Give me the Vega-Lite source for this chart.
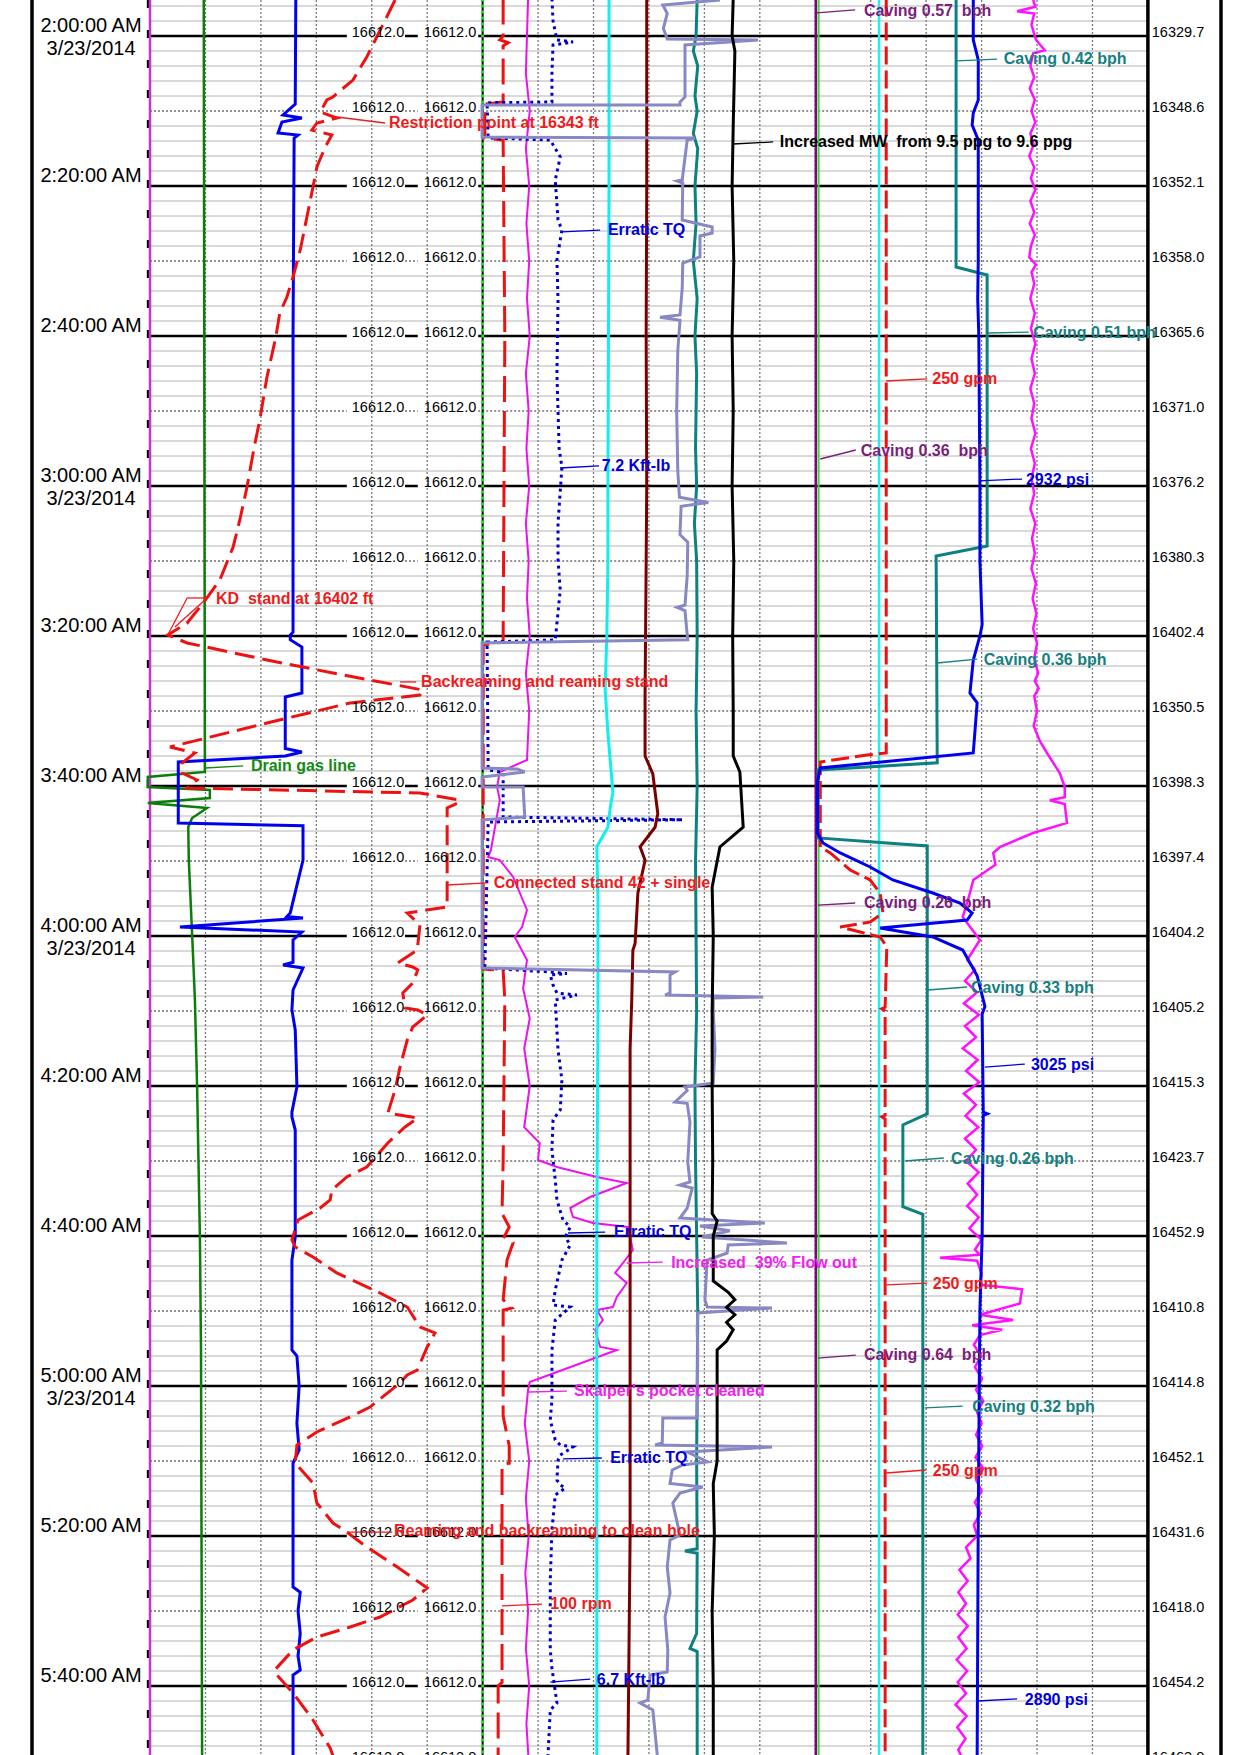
{
"$schema":"https://vega.github.io/schema/vega-lite/v6.json",
"width":1189,"height":1755,
"autosize":{"type":"none"},
"padding":{"left":32,"top":0,"right":19,"bottom":0},
"background":"white",
"config":{"view":{"stroke":null}},
"datasets":{
"minor":[{"t":-4},{"t":-2},{"t":2},{"t":4},{"t":6},{"t":8},{"t":12},{"t":14},{"t":16},{"t":18},{"t":22},{"t":24},{"t":26},{"t":28},{"t":32},{"t":34},{"t":36},{"t":38},{"t":42},{"t":44},{"t":46},{"t":48},{"t":52},{"t":54},{"t":56},{"t":58},{"t":62},{"t":64},{"t":66},{"t":68},{"t":72},{"t":74},{"t":76},{"t":78},{"t":82},{"t":84},{"t":86},{"t":88},{"t":92},{"t":94},{"t":96},{"t":98},{"t":102},{"t":104},{"t":106},{"t":108},{"t":112},{"t":114},{"t":116},{"t":118},{"t":122},{"t":124},{"t":126},{"t":128},{"t":132},{"t":134},{"t":136},{"t":138},{"t":142},{"t":144},{"t":146},{"t":148},{"t":152},{"t":154},{"t":156},{"t":158},{"t":162},{"t":164},{"t":166},{"t":168},{"t":172},{"t":174},{"t":176},{"t":178},{"t":182},{"t":184},{"t":186},{"t":188},{"t":192},{"t":194},{"t":196},{"t":198},{"t":202},{"t":204},{"t":206},{"t":208},{"t":212},{"t":214},{"t":216},{"t":218},{"t":222},{"t":224},{"t":226},{"t":228}],
"mid":[{"t":10},{"t":30},{"t":50},{"t":70},{"t":90},{"t":110},{"t":130},{"t":150},{"t":170},{"t":190},{"t":210},{"t":230}],
"times":[{"t":0,"lab":"2:00:00 AM\n3/23/2014"},{"t":20,"lab":"2:20:00 AM"},{"t":40,"lab":"2:40:00 AM"},{"t":60,"lab":"3:00:00 AM\n3/23/2014"},{"t":80,"lab":"3:20:00 AM"},{"t":100,"lab":"3:40:00 AM"},{"t":120,"lab":"4:00:00 AM\n3/23/2014"},{"t":140,"lab":"4:20:00 AM"},{"t":160,"lab":"4:40:00 AM"},{"t":180,"lab":"5:00:00 AM\n3/23/2014"},{"t":200,"lab":"5:20:00 AM"},{"t":220,"lab":"5:40:00 AM"}],
"depths":[{"t":0,"d":"16329.7"},{"t":10,"d":"16348.6"},{"t":20,"d":"16352.1"},{"t":30,"d":"16358.0"},{"t":40,"d":"16365.6"},{"t":50,"d":"16371.0"},{"t":60,"d":"16376.2"},{"t":70,"d":"16380.3"},{"t":80,"d":"16402.4"},{"t":90,"d":"16350.5"},{"t":100,"d":"16398.3"},{"t":110,"d":"16397.4"},{"t":120,"d":"16404.2"},{"t":130,"d":"16405.2"},{"t":140,"d":"16415.3"},{"t":150,"d":"16423.7"},{"t":160,"d":"16452.9"},{"t":170,"d":"16410.8"},{"t":180,"d":"16414.8"},{"t":190,"d":"16452.1"},{"t":200,"d":"16431.6"},{"t":210,"d":"16418.0"},{"t":220,"d":"16454.2"},{"t":230,"d":"16463.0"}],
"vgrid":[{"u":1},{"u":2},{"u":3},{"u":4},{"u":5},{"u":6},{"u":7},{"u":8},{"u":9},{"u":10},{"u":11},{"u":12},{"u":13},{"u":14},{"u":15},{"u":16},{"u":17}],
"magL":[{"t":-5,"u":0},{"t":230,"u":0}],
"col6":[{"t":-5,"u":6},{"t":230,"u":6}],
"purp12":[{"t":-5,"u":12.01},{"t":230,"u":12.01}],
"grn12":[{"t":-5,"u":12.06},{"t":230,"u":12.06}],
"cyanR":[{"t":-5,"u":13.15},{"t":230,"u":13.15}],
"greenL":[{"t":-5,"u":0.97},{"t":98.13,"u":0.99},{"t":98.8,"u":-0.04},{"t":100.13,"u":-0.04},{"t":100.53,"u":1.08},{"t":101.6,"u":1.08},{"t":102.27,"u":-0.04},{"t":102.93,"u":1.03},{"t":104.27,"u":0.76},{"t":105.47,"u":0.69},{"t":109.87,"u":0.70},{"t":123.2,"u":0.78},{"t":128.53,"u":0.81},{"t":140.13,"u":0.85},{"t":160.13,"u":0.90},{"t":175.2,"u":0.92},{"t":230,"u":0.94}],
"blueL":[{"t":-5,"u":2.63},{"t":9.07,"u":2.62},{"t":10.53,"u":2.40},{"t":10.93,"u":2.74},{"t":11.47,"u":2.38},{"t":12.93,"u":2.31},{"t":13.2,"u":2.67},{"t":13.6,"u":2.60},{"t":40,"u":2.58},{"t":79.5,"u":2.58},{"t":79.87,"u":2.53},{"t":80.5,"u":2.53},{"t":81.47,"u":2.74},{"t":87.6,"u":2.74},{"t":88.13,"u":2.44},{"t":95.0,"u":2.44},{"t":95.47,"u":2.74},{"t":96.0,"u":2.44},{"t":96.8,"u":0.51},{"t":104.93,"u":0.51},{"t":105.3,"u":2.76},{"t":109.87,"u":2.76},{"t":116.93,"u":2.53},{"t":117.4,"u":2.47},{"t":117.6,"u":2.76},{"t":118.8,"u":0.54},{"t":119.47,"u":2.74},{"t":120.53,"u":2.58},{"t":123.5,"u":2.58},{"t":123.87,"u":2.40},{"t":124.27,"u":2.76},{"t":127.2,"u":2.58},{"t":129.87,"u":2.56},{"t":132.53,"u":2.62},{"t":140.13,"u":2.65},{"t":143.5,"u":2.56},{"t":144.13,"u":2.56},{"t":145.87,"u":2.62},{"t":160.13,"u":2.62},{"t":163.2,"u":2.56},{"t":175.2,"u":2.56},{"t":176,"u":2.65},{"t":180,"u":2.69},{"t":185,"u":2.65},{"t":188.53,"u":2.69},{"t":190.27,"u":2.58},{"t":206.8,"u":2.58},{"t":207.5,"u":2.71},{"t":210,"u":2.67},{"t":213,"u":2.71},{"t":216,"u":2.67},{"t":217.87,"u":2.71},{"t":218.53,"u":2.58},{"t":230,"u":2.58}],
"redL":[{"t":-4.8,"u":4.42},{"t":-2.53,"u":4.27},{"t":0.13,"u":4.09},{"t":2.8,"u":3.91},{"t":5.87,"u":3.66},{"t":8.13,"u":3.30},{"t":8.53,"u":3.19},{"t":10.13,"u":3.07},{"t":10.93,"u":3.37},{"t":11.6,"u":3.01},{"t":12.53,"u":2.92},{"t":13.2,"u":3.28},{"t":14.8,"u":3.16},{"t":17.47,"u":3.01},{"t":20.13,"u":2.94},{"t":24.13,"u":2.83},{"t":28.53,"u":2.71},{"t":32.13,"u":2.58},{"t":34.8,"u":2.47},{"t":36.93,"u":2.34},{"t":40.13,"u":2.27},{"t":45.47,"u":2.11},{"t":51.2,"u":1.98},{"t":54.8,"u":1.88},{"t":60.13,"u":1.75},{"t":64.53,"u":1.62},{"t":68.13,"u":1.50},{"t":72.53,"u":1.26},{"t":75.6,"u":0.96},{"t":78.27,"u":0.67},{"t":79.87,"u":0.32},{"t":80.93,"u":0.67},{"t":83.2,"u":2.11},{"t":84.93,"u":3.30},{"t":87.2,"u":4.92},{"t":87.87,"u":4.87},{"t":88.93,"u":3.61},{"t":91.6,"u":2.11},{"t":94.8,"u":0.36},{"t":95.6,"u":0.81},{"t":96.93,"u":0.58},{"t":98.27,"u":0.58},{"t":99.2,"u":0.85},{"t":100.27,"u":0.67},{"t":100.93,"u":4.87},{"t":101.87,"u":5.57},{"t":102.13,"u":5.59},{"t":102.93,"u":5.36},{"t":116.13,"u":5.36},{"t":116.93,"u":4.64},{"t":118.53,"u":4.87},{"t":121.87,"u":4.82},{"t":123.6,"u":4.47},{"t":124.13,"u":4.74},{"t":124.53,"u":4.83},{"t":126.27,"u":4.74},{"t":127.6,"u":4.56},{"t":129.6,"u":4.60},{"t":129.87,"u":4.83},{"t":130.53,"u":5.00},{"t":132.13,"u":4.74},{"t":133.87,"u":4.64},{"t":137.47,"u":4.51},{"t":140.53,"u":4.42},{"t":143.6,"u":4.29},{"t":144.27,"u":4.83},{"t":145.47,"u":4.60},{"t":147.6,"u":4.29},{"t":150.8,"u":3.91},{"t":152.13,"u":3.55},{"t":153.87,"u":3.28},{"t":155.2,"u":3.25},{"t":156.27,"u":3.07},{"t":157.87,"u":2.67},{"t":160.53,"u":2.56},{"t":161.47,"u":2.62},{"t":162.8,"u":2.94},{"t":164.93,"u":3.37},{"t":167.6,"u":4.15},{"t":169.47,"u":4.64},{"t":172.13,"u":4.87},{"t":172.93,"u":5.14},{"t":174.8,"u":5.00},{"t":177.87,"u":4.82},{"t":178.53,"u":4.64},{"t":179.6,"u":4.51},{"t":182.8,"u":3.97},{"t":184.13,"u":3.61},{"t":186.13,"u":3.01},{"t":187.87,"u":2.65},{"t":190.27,"u":2.62},{"t":192.93,"u":2.94},{"t":195.6,"u":3.01},{"t":198.27,"u":3.30},{"t":199.47,"u":3.55},{"t":201.47,"u":3.91},{"t":204.13,"u":4.46},{"t":206.93,"u":5.00},{"t":208.53,"u":4.74},{"t":210.8,"u":4.15},{"t":212.13,"u":3.61},{"t":213.47,"u":3.01},{"t":215.2,"u":2.58},{"t":217.87,"u":2.25},{"t":218.53,"u":2.29},{"t":220.93,"u":2.58},{"t":224.53,"u":2.94},{"t":228.27,"u":3.25},{"t":230.13,"u":3.34}],
"red6":[{"t":-5,"u":6.37},{"t":0,"u":6.37},{"t":0.5,"u":6.31},{"t":0.9,"u":6.46},{"t":1.3,"u":6.37},{"t":8.8,"u":6.37},{"t":9.07,"u":6.04},{"t":13.6,"u":6.04},{"t":13.9,"u":6.37},{"t":40,"u":6.40},{"t":80.8,"u":6.37},{"t":81.2,"u":6.01},{"t":124.4,"u":6.01},{"t":124.6,"u":6.37},{"t":128.5,"u":6.40},{"t":150,"u":6.37},{"t":157,"u":6.35},{"t":158.8,"u":6.48},{"t":160.1,"u":6.39},{"t":160.9,"u":6.55},{"t":163.2,"u":6.44},{"t":168.5,"u":6.37},{"t":169.6,"u":6.53},{"t":169.9,"u":6.37},{"t":184,"u":6.37},{"t":188,"u":6.48},{"t":190.3,"u":6.48},{"t":190.5,"u":6.35},{"t":219.5,"u":6.35},{"t":220,"u":6.28},{"t":230,"u":6.28}],
"mag7":[{"t":-5,"u":6.82},{"t":5,"u":6.78},{"t":10,"u":6.85},{"t":15,"u":6.78},{"t":20,"u":6.84},{"t":25,"u":6.79},{"t":30,"u":6.84},{"t":35,"u":6.80},{"t":40,"u":6.85},{"t":45,"u":6.78},{"t":50,"u":6.83},{"t":55,"u":6.79},{"t":60,"u":6.84},{"t":65,"u":6.78},{"t":70,"u":6.83},{"t":75,"u":6.80},{"t":80,"u":6.85},{"t":85,"u":6.78},{"t":90,"u":6.84},{"t":96.53,"u":6.80},{"t":98.13,"u":6.31},{"t":100.13,"u":6.26},{"t":101.87,"u":6.31},{"t":108.53,"u":6.15},{"t":109.47,"u":6.10},{"t":109.87,"u":6.31},{"t":112.13,"u":6.55},{"t":116.53,"u":6.80},{"t":118.8,"u":6.71},{"t":120.13,"u":6.58},{"t":123.2,"u":6.80},{"t":127,"u":6.73},{"t":131,"u":6.85},{"t":135,"u":6.75},{"t":140,"u":6.85},{"t":145.5,"u":6.75},{"t":147.6,"u":7.03},{"t":149.87,"u":7.00},{"t":150.8,"u":7.34},{"t":152.13,"u":8.06},{"t":152.93,"u":8.60},{"t":154.8,"u":7.94},{"t":156.27,"u":7.58},{"t":157.47,"u":7.63},{"t":158.27,"u":7.99},{"t":158.8,"u":8.62},{"t":161.87,"u":8.71},{"t":163.6,"u":8.53},{"t":164.93,"u":8.39},{"t":166.27,"u":8.60},{"t":168.13,"u":8.42},{"t":169.47,"u":8.35},{"t":169.87,"u":8.06},{"t":171.2,"u":8.17},{"t":172.53,"u":8.03},{"t":174.8,"u":8.12},{"t":175.2,"u":8.42},{"t":179.47,"u":6.85},{"t":180.53,"u":6.82},{"t":185,"u":6.76},{"t":190,"u":6.84},{"t":195,"u":6.78},{"t":200,"u":6.83},{"t":205,"u":6.77},{"t":210,"u":6.82},{"t":215,"u":6.78},{"t":220,"u":6.84},{"t":225,"u":6.79},{"t":230,"u":6.83}],
"dot8":[{"t":-5,"u":7.25},{"t":-2,"u":7.27},{"t":0.53,"u":7.34},{"t":0.8,"u":7.63},{"t":1.2,"u":7.27},{"t":5,"u":7.25},{"t":8.8,"u":7.25},{"t":8.9,"u":6.08},{"t":13.6,"u":6.10},{"t":13.87,"u":7.22},{"t":16.13,"u":7.40},{"t":19.2,"u":7.31},{"t":24.53,"u":7.36},{"t":25.87,"u":7.43},{"t":29.87,"u":7.34},{"t":35.2,"u":7.36},{"t":45,"u":7.34},{"t":55,"u":7.38},{"t":57.5,"u":7.43},{"t":65,"u":7.36},{"t":69.87,"u":7.36},{"t":73.87,"u":7.40},{"t":80.53,"u":7.31},{"t":80.8,"u":6.08},{"t":97.87,"u":6.10},{"t":98.2,"u":6.37},{"t":104.13,"u":6.37},{"t":104.5,"u":9.61},{"t":104.8,"u":6.10},{"t":124.27,"u":6.04},{"t":124.8,"u":7.22},{"t":125.0,"u":7.52},{"t":125.2,"u":7.22},{"t":126.53,"u":7.27},{"t":127.6,"u":7.34},{"t":127.87,"u":7.70},{"t":128.53,"u":7.31},{"t":135.2,"u":7.36},{"t":139.2,"u":7.43},{"t":143.2,"u":7.40},{"t":144.53,"u":7.27},{"t":148.53,"u":7.25},{"t":152.53,"u":7.31},{"t":155.2,"u":7.34},{"t":157.87,"u":7.45},{"t":158.8,"u":7.58},{"t":160.13,"u":7.49},{"t":161.2,"u":7.58},{"t":163.2,"u":7.43},{"t":167.2,"u":7.31},{"t":169.2,"u":7.27},{"t":169.47,"u":7.58},{"t":171.2,"u":7.31},{"t":175.2,"u":7.25},{"t":181.87,"u":7.25},{"t":184.53,"u":7.22},{"t":187.2,"u":7.31},{"t":187.87,"u":7.40},{"t":188.13,"u":7.63},{"t":189.2,"u":7.40},{"t":189.87,"u":7.36},{"t":192.53,"u":7.34},{"t":193.2,"u":7.40},{"t":193.6,"u":7.49},{"t":194.53,"u":7.31},{"t":199.2,"u":7.25},{"t":205.87,"u":7.22},{"t":215.2,"u":7.22},{"t":217.6,"u":7.25},{"t":222.27,"u":7.34},{"t":223.2,"u":7.22},{"t":229.2,"u":7.18},{"t":230,"u":7.18}],
"cyan9":[{"t":-5,"u":8.28},{"t":20,"u":8.28},{"t":40,"u":8.27},{"t":60,"u":8.26},{"t":70,"u":8.26},{"t":80,"u":8.24},{"t":87,"u":8.21},{"t":93,"u":8.26},{"t":100.8,"u":8.35},{"t":103,"u":8.30},{"t":105.5,"u":8.26},{"t":108.1,"u":8.06},{"t":115,"u":8.08},{"t":130,"u":8.08},{"t":160,"u":8.06},{"t":230,"u":8.06}],
"maroon":[{"t":-5,"u":8.96},{"t":20,"u":8.96},{"t":40,"u":8.95},{"t":60,"u":8.96},{"t":70,"u":8.95},{"t":87.8,"u":8.93},{"t":96,"u":8.93},{"t":98.4,"u":9.07},{"t":103.7,"u":9.16},{"t":105.5,"u":9.11},{"t":108.1,"u":8.84},{"t":109.9,"u":8.93},{"t":114.3,"u":8.80},{"t":121.0,"u":8.75},{"t":121.9,"u":8.71},{"t":128.5,"u":8.69},{"t":135,"u":8.66},{"t":200,"u":8.66},{"t":230,"u":8.62}],
"lav":[{"t":-4.8,"u":10.28},{"t":-4.13,"u":9.25},{"t":-3,"u":9.33},{"t":-1,"u":9.26},{"t":0.4,"u":9.33},{"t":0.53,"u":10.97},{"t":1.2,"u":9.65},{"t":8.13,"u":9.65},{"t":8.8,"u":9.56},{"t":9.2,"u":9.56},{"t":9.2,"u":5.99},{"t":13.47,"u":5.99},{"t":13.6,"u":9.83},{"t":13.87,"u":9.69},{"t":19.2,"u":9.60},{"t":19.33,"u":9.51},{"t":19.6,"u":9.61},{"t":24.53,"u":9.60},{"t":25.47,"u":10.14},{"t":26.27,"u":10.14},{"t":26.67,"u":9.92},{"t":29.47,"u":9.92},{"t":30.27,"u":9.61},{"t":33.6,"u":9.60},{"t":37.2,"u":9.56},{"t":37.5,"u":9.20},{"t":37.9,"u":9.56},{"t":42,"u":9.52},{"t":50,"u":9.50},{"t":58,"u":9.52},{"t":61.5,"u":9.55},{"t":62.2,"u":10.07},{"t":62.7,"u":9.58},{"t":66.5,"u":9.56},{"t":67.5,"u":9.70},{"t":72,"u":9.69},{"t":75.87,"u":9.65},{"t":76.2,"u":9.51},{"t":76.6,"u":9.65},{"t":79.87,"u":9.69},{"t":80.5,"u":9.70},{"t":80.93,"u":5.99},{"t":97.6,"u":5.99},{"t":97.73,"u":6.62},{"t":98.13,"u":6.76},{"t":98.8,"u":5.99},{"t":100.13,"u":5.99},{"t":100.13,"u":6.73},{"t":104.13,"u":6.76},{"t":104.53,"u":5.99},{"t":124.27,"u":5.99},{"t":124.8,"u":9.47},{"t":125.2,"u":9.38},{"t":127.6,"u":9.38},{"t":127.87,"u":9.29},{"t":128.13,"u":11.06},{"t":128.27,"u":10.16},{"t":130,"u":10.16},{"t":135,"u":10.19},{"t":139.6,"u":10.16},{"t":140.13,"u":9.65},{"t":140.6,"u":9.69},{"t":142.13,"u":9.47},{"t":142.3,"u":9.69},{"t":144.8,"u":9.74},{"t":150.13,"u":9.70},{"t":152.8,"u":9.74},{"t":153.2,"u":9.56},{"t":153.6,"u":9.78},{"t":156.27,"u":9.69},{"t":157.6,"u":9.56},{"t":158.27,"u":11.09},{"t":158.67,"u":9.92},{"t":159.3,"u":10.46},{"t":160.13,"u":9.96},{"t":160.93,"u":11.49},{"t":161.2,"u":10.43},{"t":162.27,"u":10.41},{"t":163.2,"u":10.05},{"t":168.53,"u":10.01},{"t":169.47,"u":10.05},{"t":169.6,"u":11.22},{"t":170.27,"u":9.88},{"t":172.53,"u":9.87},{"t":175.2,"u":9.88},{"t":184.27,"u":9.87},{"t":184.27,"u":9.25},{"t":187.6,"u":9.24},{"t":187.87,"u":9.11},{"t":188.13,"u":11.22},{"t":188.8,"u":9.69},{"t":190.13,"u":10.06},{"t":190.53,"u":9.61},{"t":191.2,"u":9.42},{"t":193.0,"u":9.38},{"t":193.47,"u":9.97},{"t":194.27,"u":9.56},{"t":195.6,"u":9.43},{"t":199.87,"u":9.56},{"t":200.53,"u":9.38},{"t":204.13,"u":9.33},{"t":207.6,"u":9.38},{"t":210.8,"u":9.29},{"t":215.2,"u":9.34},{"t":218.13,"u":9.33},{"t":218.53,"u":9.02},{"t":221.87,"u":8.98},{"t":222.27,"u":8.84},{"t":223.2,"u":9.07},{"t":229.2,"u":9.15},{"t":230,"u":9.15}],
"teal":[{"t":-5,"u":9.87},{"t":0,"u":9.85},{"t":2,"u":9.80},{"t":4,"u":9.88},{"t":8,"u":9.83},{"t":10,"u":9.87},{"t":13,"u":9.80},{"t":15,"u":9.88},{"t":20,"u":9.83},{"t":25,"u":9.85},{"t":30,"u":9.80},{"t":35,"u":9.87},{"t":40,"u":9.83},{"t":45,"u":9.86},{"t":55,"u":9.84},{"t":60,"u":9.86},{"t":65,"u":9.82},{"t":70,"u":9.86},{"t":80,"u":9.87},{"t":90,"u":9.85},{"t":100,"u":9.87},{"t":110,"u":9.84},{"t":120,"u":9.85},{"t":130,"u":9.86},{"t":140,"u":9.83},{"t":150,"u":9.84},{"t":160,"u":9.86},{"t":170,"u":9.88},{"t":180,"u":9.87},{"t":190,"u":9.86},{"t":201.7,"u":9.87},{"t":202.0,"u":9.65},{"t":202.3,"u":9.87},{"t":213,"u":9.86},{"t":215,"u":9.74},{"t":215.4,"u":9.87},{"t":230,"u":9.87}],
"black":[{"t":-5,"u":10.52},{"t":0,"u":10.50},{"t":2,"u":10.55},{"t":12,"u":10.52},{"t":20,"u":10.50},{"t":30,"u":10.53},{"t":40,"u":10.50},{"t":50,"u":10.52},{"t":60,"u":10.50},{"t":70,"u":10.53},{"t":80,"u":10.51},{"t":90,"u":10.52},{"t":96,"u":10.52},{"t":98.13,"u":10.64},{"t":105.47,"u":10.70},{"t":108.13,"u":10.28},{"t":113.47,"u":10.14},{"t":120,"u":10.16},{"t":130,"u":10.14},{"t":140,"u":10.14},{"t":150,"u":10.15},{"t":157,"u":10.14},{"t":158,"u":10.23},{"t":160,"u":10.16},{"t":166,"u":10.16},{"t":167.5,"u":10.43},{"t":168.5,"u":10.55},{"t":169.5,"u":10.40},{"t":170.5,"u":10.55},{"t":171.5,"u":10.40},{"t":172.5,"u":10.52},{"t":174,"u":10.40},{"t":175.2,"u":10.23},{"t":190,"u":10.23},{"t":193,"u":10.16},{"t":200,"u":10.18},{"t":210,"u":10.14},{"t":220,"u":10.16},{"t":230,"u":10.16}],
"redR":[{"t":-5,"u":13.28},{"t":95.6,"u":13.28},{"t":95.87,"u":12.93},{"t":96.8,"u":12.09},{"t":108.13,"u":12.09},{"t":108.93,"u":12.27},{"t":111.2,"u":12.63},{"t":112.53,"u":12.99},{"t":114.27,"u":13.17},{"t":116.93,"u":13.22},{"t":118.13,"u":12.99},{"t":118.8,"u":12.45},{"t":119.47,"u":12.81},{"t":120.13,"u":13.17},{"t":121.47,"u":13.29},{"t":129.5,"u":13.26},{"t":129.7,"u":13.20},{"t":130,"u":13.26},{"t":143.9,"u":13.26},{"t":144.1,"u":13.20},{"t":144.4,"u":13.26},{"t":230,"u":13.26}],
"tealR":[{"t":-5,"u":14.54},{"t":30.8,"u":14.54},{"t":31.87,"u":15.10},{"t":68,"u":15.10},{"t":69.33,"u":14.18},{"t":96.9,"u":14.20},{"t":97.87,"u":12.05},{"t":106.93,"u":12.05},{"t":108,"u":14.02},{"t":143.7,"u":14.02},{"t":145.2,"u":13.58},{"t":156.1,"u":13.58},{"t":157.1,"u":13.94},{"t":230,"u":13.94}],
"blueR":[{"t":-5,"u":14.85},{"t":0.53,"u":14.85},{"t":3.2,"u":14.94},{"t":8.53,"u":14.94},{"t":10.27,"u":14.85},{"t":11.87,"u":14.83},{"t":13.87,"u":14.94},{"t":20,"u":14.94},{"t":30,"u":14.94},{"t":35,"u":14.93},{"t":40,"u":14.95},{"t":50,"u":14.96},{"t":60,"u":14.97},{"t":70,"u":14.97},{"t":78.5,"u":15.01},{"t":80,"u":14.97},{"t":83.2,"u":14.85},{"t":87.6,"u":14.79},{"t":88.93,"u":14.92},{"t":95.6,"u":14.85},{"t":97.6,"u":12.09},{"t":99.5,"u":12.04},{"t":106.27,"u":12.04},{"t":107.6,"u":12.14},{"t":108.93,"u":12.45},{"t":110.8,"u":12.99},{"t":112.53,"u":13.40},{"t":114.27,"u":14.12},{"t":115.6,"u":14.61},{"t":116.93,"u":14.83},{"t":117.87,"u":14.74},{"t":118.93,"u":13.17},{"t":120.13,"u":14.12},{"t":121.87,"u":14.66},{"t":125.3,"u":14.92},{"t":129.4,"u":15.06},{"t":130.4,"u":15.01},{"t":143.5,"u":15.03},{"t":143.7,"u":15.10},{"t":143.9,"u":15.03},{"t":160,"u":15.01},{"t":169.9,"u":14.97},{"t":197.2,"u":14.94},{"t":230,"u":14.92}],
"magR":[{"t":-4.8,"u":15.93},{"t":-3.9,"u":15.97},{"t":-3.3,"u":15.64},{"t":-3.0,"u":15.95},{"t":-1.5,"u":15.90},{"t":0.5,"u":15.98},{"t":1.9,"u":16.14},{"t":2.3,"u":15.93},{"t":4,"u":15.88},{"t":5.5,"u":15.95},{"t":7,"u":15.87},{"t":8.5,"u":15.96},{"t":10,"u":15.90},{"t":11.5,"u":15.97},{"t":13,"u":15.88},{"t":14.5,"u":15.94},{"t":16,"u":15.86},{"t":17.5,"u":15.95},{"t":19,"u":15.89},{"t":20.5,"u":15.97},{"t":22,"u":15.88},{"t":23.5,"u":15.95},{"t":25,"u":15.87},{"t":26.5,"u":15.96},{"t":28,"u":15.89},{"t":29.5,"u":15.86},{"t":30.5,"u":15.98},{"t":31.5,"u":15.90},{"t":33,"u":15.95},{"t":35,"u":15.88},{"t":37,"u":15.96},{"t":39,"u":15.89},{"t":41,"u":15.97},{"t":43,"u":15.90},{"t":45,"u":15.96},{"t":47,"u":15.88},{"t":49,"u":15.95},{"t":51,"u":15.90},{"t":53,"u":15.97},{"t":55,"u":15.89},{"t":57,"u":15.96},{"t":59,"u":15.90},{"t":61,"u":15.95},{"t":63,"u":15.88},{"t":65,"u":15.97},{"t":67,"u":15.91},{"t":69,"u":15.96},{"t":71,"u":15.90},{"t":73,"u":15.98},{"t":75,"u":15.92},{"t":77,"u":15.99},{"t":79,"u":15.93},{"t":81,"u":16.00},{"t":83,"u":15.95},{"t":85,"u":16.02},{"t":86,"u":15.96},{"t":87,"u":16.03},{"t":88,"u":15.95},{"t":90,"u":16.00},{"t":92,"u":15.94},{"t":94,"u":16.05},{"t":95.6,"u":16.18},{"t":98.27,"u":16.41},{"t":100.13,"u":16.50},{"t":101.5,"u":16.50},{"t":101.9,"u":16.23},{"t":102.4,"u":16.50},{"t":104.93,"u":16.54},{"t":106.27,"u":15.93},{"t":108.13,"u":15.33},{"t":108.93,"u":15.21},{"t":110.5,"u":15.25},{"t":112.53,"u":14.85},{"t":114.27,"u":14.79},{"t":117.47,"u":14.66},{"t":120.53,"u":14.97},{"t":123.2,"u":14.74},{"t":124.5,"u":14.88},{"t":126,"u":14.70},{"t":127.5,"u":14.92},{"t":129,"u":14.68},{"t":130.5,"u":14.95},{"t":132,"u":14.70},{"t":133.5,"u":14.90},{"t":135,"u":14.66},{"t":136.5,"u":14.93},{"t":138,"u":14.72},{"t":139.5,"u":14.96},{"t":141,"u":14.68},{"t":142.5,"u":14.90},{"t":144,"u":14.71},{"t":145.5,"u":14.94},{"t":147,"u":14.70},{"t":148.5,"u":14.90},{"t":150,"u":14.72},{"t":151.5,"u":14.95},{"t":153,"u":14.75},{"t":154.5,"u":14.92},{"t":156,"u":14.74},{"t":157.5,"u":14.95},{"t":159,"u":14.78},{"t":160.5,"u":15.0},{"t":161.8,"u":14.88},{"t":162.5,"u":14.97},{"t":162.9,"u":14.25},{"t":163.3,"u":14.92},{"t":165,"u":15.0},{"t":166.5,"u":14.97},{"t":167.1,"u":15.73},{"t":169.0,"u":15.69},{"t":170.5,"u":14.97},{"t":171.2,"u":15.57},{"t":171.9,"u":14.83},{"t":172.5,"u":15.37},{"t":173.2,"u":14.97},{"t":174.5,"u":14.86},{"t":176,"u":14.99},{"t":177.5,"u":14.88},{"t":179,"u":15.01},{"t":180.5,"u":14.90},{"t":182,"u":15.03},{"t":183.5,"u":14.92},{"t":185,"u":15.0},{"t":186.5,"u":14.90},{"t":188,"u":15.01},{"t":189.5,"u":14.89},{"t":191,"u":15.03},{"t":192.5,"u":14.90},{"t":194,"u":15.0},{"t":195.5,"u":14.88},{"t":197,"u":14.98},{"t":198.5,"u":14.86},{"t":200,"u":14.92},{"t":201.5,"u":14.72},{"t":203,"u":14.80},{"t":204.5,"u":14.60},{"t":206,"u":14.75},{"t":207.5,"u":14.58},{"t":209,"u":14.72},{"t":210.5,"u":14.57},{"t":212,"u":14.75},{"t":213.5,"u":14.58},{"t":215,"u":14.73},{"t":216.5,"u":14.55},{"t":218,"u":14.74},{"t":219.5,"u":14.57},{"t":221,"u":14.72},{"t":222.5,"u":14.53},{"t":224,"u":14.73},{"t":225.5,"u":14.56},{"t":227,"u":14.71},{"t":228.5,"u":14.58},{"t":230,"u":14.68}],
"labels":[{"label":"Caving 0.57\u00a0 bph","k":"purple","u":12.88,"t":-3.33},{"label":"Caving 0.42 bph","k":"teal","u":15.40,"t":3.07},{"label":"Restriction point at 16343 ft","k":"red","u":4.31,"t":11.6},{"label":"Increased MW\u00a0 from 9.5 ppg to 9.6 ppg","k":"black","u":11.36,"t":14.13},{"label":"Erratic TQ","k":"blue","u":8.26,"t":25.87},{"label":"Caving 0.51 bph","k":"teal","u":15.93,"t":39.6},{"label":"250 gpm","k":"red","u":14.11,"t":45.73},{"label":"7.2 Kft-lb","k":"blue","u":8.15,"t":57.33},{"label":"Caving 0.36\u00a0 bph","k":"purple","u":12.82,"t":55.33},{"label":"2932 psi","k":"blue","u":15.80,"t":59.2},{"label":"KD\u00a0 stand at 16402 ft","k":"red","u":1.19,"t":75.07},{"label":"Backreaming and reaming stand","k":"red","u":4.89,"t":86.13},{"label":"Caving 0.36 bph","k":"teal","u":15.04,"t":83.2},{"label":"Drain gas line","k":"green","u":1.82,"t":97.33},{"label":"Connected stand 42 + single","k":"red","u":6.20,"t":112.93},{"label":"Caving 0.26\u00a0 bph","k":"purple","u":12.88,"t":115.6},{"label":"Caving 0.33 bph","k":"teal","u":14.81,"t":126.93},{"label":"3025 psi","k":"blue","u":15.89,"t":137.2},{"label":"Caving 0.26 bph","k":"teal","u":14.45,"t":149.73},{"label":"Erratic TQ","k":"blue","u":8.37,"t":159.47},{"label":"Increased\u00a0 39% Flow out","k":"magenta","u":9.40,"t":163.6},{"label":"250 gpm","k":"red","u":14.12,"t":166.4},{"label":"Caving 0.64\u00a0 bph","k":"purple","u":12.88,"t":175.87},{"label":"Skalper's pocket cleaned","k":"magenta","u":7.65,"t":180.67},{"label":"Caving 0.32 bph","k":"teal","u":14.83,"t":182.8},{"label":"Erratic TQ","k":"blue","u":8.30,"t":189.6},{"label":"250 gpm","k":"red","u":14.12,"t":191.33},{"label":"Reaming and backreaming to clean hole","k":"red","u":4.40,"t":199.33},{"label":"100 rpm","k":"red","u":7.22,"t":209.07},{"label":"6.7 Kft-lb","k":"blue","u":8.06,"t":219.2},{"label":"2890 psi","k":"blue","u":15.78,"t":221.87}],
"leaders":[{"k":"purple","u":12.03,"t":-3.07,"u2":12.72,"t2":-3.47},{"k":"teal","u":14.56,"t":3.33,"u2":15.28,"t2":3.07},{"k":"red","u":3.37,"t":10.8,"u2":4.24,"t2":11.6},{"k":"black","u":10.52,"t":14.4,"u2":11.24,"t2":14.13},{"k":"blue","u":7.43,"t":26.13,"u2":8.12,"t2":25.87},{"k":"teal","u":15.10,"t":39.6,"u2":15.85,"t2":39.47},{"k":"red","u":13.28,"t":46.0,"u2":14.02,"t2":45.73},{"k":"blue","u":7.40,"t":57.6,"u2":8.10,"t2":57.33},{"k":"purple","u":12.09,"t":56.4,"u2":12.73,"t2":55.2},{"k":"blue","u":14.95,"t":59.33,"u2":15.73,"t2":59.07},{"k":"red","u":0.32,"t":79.87,"u2":0.67,"t2":74.93},{"k":"red","u":0.67,"t":74.93,"u2":1.03,"t2":74.93},{"k":"red","u":0.45,"t":78.8,"u2":0.99,"t2":75.2},{"k":"red","u":4.51,"t":86.13,"u2":4.80,"t2":86.13},{"k":"teal","u":14.20,"t":83.6,"u2":14.92,"t2":83.07},{"k":"green","u":0.99,"t":97.6,"u2":1.68,"t2":97.33},{"k":"red","u":5.36,"t":113.2,"u2":6.08,"t2":112.93},{"k":"purple","u":12.05,"t":115.87,"u2":12.72,"t2":115.6},{"k":"teal","u":14.03,"t":127.2,"u2":14.74,"t2":126.8},{"k":"blue","u":15.06,"t":137.47,"u2":15.78,"t2":137.07},{"k":"teal","u":13.62,"t":150.0,"u2":14.32,"t2":149.6},{"k":"blue","u":7.54,"t":159.6,"u2":8.21,"t2":159.47},{"k":"magenta","u":8.60,"t":163.6,"u2":9.25,"t2":163.47},{"k":"red","u":13.28,"t":166.53,"u2":14.02,"t2":166.27},{"k":"purple","u":12.05,"t":176.27,"u2":12.73,"t2":175.87},{"k":"magenta","u":6.82,"t":180.8,"u2":7.52,"t2":180.67},{"k":"teal","u":13.98,"t":182.93,"u2":14.66,"t2":182.67},{"k":"blue","u":7.45,"t":189.73,"u2":8.15,"t2":189.6},{"k":"red","u":13.28,"t":191.6,"u2":14.0,"t2":191.2},{"k":"red","u":3.55,"t":199.47,"u2":4.37,"t2":199.47},{"k":"red","u":6.35,"t":209.33,"u2":7.07,"t2":209.07},{"k":"blue","u":7.22,"t":219.47,"u2":7.94,"t2":219.07},{"k":"blue","u":14.92,"t":222.0,"u2":15.64,"t2":221.73}]
},
"layer":[
{"data":{"name":"minor"},"mark":{"type":"rule","color":"#b4b4b4","strokeWidth":1},"encoding":{"y":{"field":"t","type":"quantitative","scale":{"domain":[-4.8,229.2],"reverse":true,"nice":false,"zero":false},"axis":null},"x":{"datum":0,"type":"quantitative","scale":{"domain":[-2.1284,19.3185],"nice":false,"zero":false},"axis":null},"x2":{"datum":18}}},
{"data":{"name":"vgrid"},"mark":{"type":"rule","color":"#7a7a7a","strokeWidth":1.3,"strokeDash":[2,2]},"encoding":{"x":{"field":"u","type":"quantitative","axis":null}}},
{"data":{"name":"mid"},"mark":{"type":"rule","color":"#707070","strokeWidth":1.3,"strokeDash":[2,2]},"encoding":{"y":{"field":"t","type":"quantitative"},"x":{"datum":0},"x2":{"datum":3.55}}},
{"data":{"name":"mid"},"mark":{"type":"rule","color":"#707070","strokeWidth":1.3,"strokeDash":[2,2]},"encoding":{"y":{"field":"t","type":"quantitative"},"x":{"datum":4.6},"x2":{"datum":4.83}}},
{"data":{"name":"mid"},"mark":{"type":"rule","color":"#707070","strokeWidth":1.3,"strokeDash":[2,2]},"encoding":{"y":{"field":"t","type":"quantitative"},"x":{"datum":5.92},"x2":{"datum":18}}},
{"data":{"name":"times"},"mark":{"type":"rule","color":"black","strokeWidth":2.5},"encoding":{"y":{"field":"t","type":"quantitative"},"x":{"datum":0},"x2":{"datum":3.55}}},
{"data":{"name":"times"},"mark":{"type":"rule","color":"black","strokeWidth":2.5},"encoding":{"y":{"field":"t","type":"quantitative"},"x":{"datum":4.6},"x2":{"datum":4.83}}},
{"data":{"name":"times"},"mark":{"type":"rule","color":"black","strokeWidth":2.5},"encoding":{"y":{"field":"t","type":"quantitative"},"x":{"datum":5.92},"x2":{"datum":18}}},
{"data":{"values":[{}]},"mark":{"type":"rule","color":"black","strokeWidth":3,"strokeDash":[8,22]},"encoding":{"x":{"datum":-0.03}}},
{"data":{"values":[{}]},"mark":{"type":"rule","color":"black","strokeWidth":3.5},"encoding":{"x":{"datum":18}}},
{"data":{"values":[{}]},"mark":{"type":"rule","color":"black","strokeWidth":3.5},"encoding":{"x":{"datum":-2.1284}}},
{"data":{"values":[{}]},"mark":{"type":"rule","color":"black","strokeWidth":3.5},"encoding":{"x":{"datum":19.3185}}},
{"data":{"name":"magL"},"mark":{"type":"line","color":"#cc33cc","strokeWidth":2.5,"clip":true},"encoding":{"x":{"field":"u","type":"quantitative"},"y":{"field":"t","type":"quantitative"},"order":{"value":null}}},
{"data":{"name":"col6"},"mark":{"type":"line","color":"black","strokeWidth":2,"clip":true},"encoding":{"x":{"field":"u","type":"quantitative"},"y":{"field":"t","type":"quantitative"},"order":{"value":null}}},
{"data":{"name":"col6"},"mark":{"type":"line","color":"#22dd22","strokeWidth":3,"strokeDash":[3,3],"clip":true},"encoding":{"x":{"field":"u","type":"quantitative"},"y":{"field":"t","type":"quantitative"},"order":{"value":null}}},
{"data":{"name":"purp12"},"mark":{"type":"line","color":"#800080","strokeWidth":2.5,"clip":true},"encoding":{"x":{"field":"u","type":"quantitative"},"y":{"field":"t","type":"quantitative"},"order":{"value":null}}},
{"data":{"name":"grn12"},"mark":{"type":"line","color":"#33dd33","strokeWidth":2,"clip":true},"encoding":{"x":{"field":"u","type":"quantitative"},"y":{"field":"t","type":"quantitative"},"order":{"value":null}}},
{"data":{"name":"cyanR"},"mark":{"type":"line","color":"#22eeee","strokeWidth":2.5,"clip":true},"encoding":{"x":{"field":"u","type":"quantitative"},"y":{"field":"t","type":"quantitative"},"order":{"value":null}}},
{"data":{"name":"greenL"},"mark":{"type":"line","color":"#0a7d0a","strokeWidth":2.5,"clip":true},"encoding":{"x":{"field":"u","type":"quantitative"},"y":{"field":"t","type":"quantitative"},"order":{"value":null}}},
{"data":{"name":"blueL"},"mark":{"type":"line","color":"#0000ee","strokeWidth":3,"clip":true},"encoding":{"x":{"field":"u","type":"quantitative"},"y":{"field":"t","type":"quantitative"},"order":{"value":null}}},
{"data":{"name":"redL"},"mark":{"type":"line","color":"#ee1111","strokeWidth":3,"strokeDash":[20,8],"clip":true},"encoding":{"x":{"field":"u","type":"quantitative"},"y":{"field":"t","type":"quantitative"},"order":{"value":null}}},
{"data":{"name":"red6"},"mark":{"type":"line","color":"#ee1111","strokeWidth":3,"strokeDash":[26,9],"clip":true},"encoding":{"x":{"field":"u","type":"quantitative"},"y":{"field":"t","type":"quantitative"},"order":{"value":null}}},
{"data":{"name":"mag7"},"mark":{"type":"line","color":"#ee11ee","strokeWidth":2,"clip":true},"encoding":{"x":{"field":"u","type":"quantitative"},"y":{"field":"t","type":"quantitative"},"order":{"value":null}}},
{"data":{"name":"dot8"},"mark":{"type":"line","color":"#0000cc","strokeWidth":3,"strokeDash":[3,4],"clip":true},"encoding":{"x":{"field":"u","type":"quantitative"},"y":{"field":"t","type":"quantitative"},"order":{"value":null}}},
{"data":{"name":"cyan9"},"mark":{"type":"line","color":"#11eeee","strokeWidth":3,"clip":true},"encoding":{"x":{"field":"u","type":"quantitative"},"y":{"field":"t","type":"quantitative"},"order":{"value":null}}},
{"data":{"name":"maroon"},"mark":{"type":"line","color":"#7a0000","strokeWidth":3,"clip":true},"encoding":{"x":{"field":"u","type":"quantitative"},"y":{"field":"t","type":"quantitative"},"order":{"value":null}}},
{"data":{"name":"teal"},"mark":{"type":"line","color":"#0d8080","strokeWidth":3,"clip":true},"encoding":{"x":{"field":"u","type":"quantitative"},"y":{"field":"t","type":"quantitative"},"order":{"value":null}}},
{"data":{"name":"lav"},"mark":{"type":"line","color":"#8888c4","strokeWidth":3,"clip":true},"encoding":{"x":{"field":"u","type":"quantitative"},"y":{"field":"t","type":"quantitative"},"order":{"value":null}}},
{"data":{"name":"black"},"mark":{"type":"line","color":"black","strokeWidth":3,"clip":true},"encoding":{"x":{"field":"u","type":"quantitative"},"y":{"field":"t","type":"quantitative"},"order":{"value":null}}},
{"data":{"name":"redR"},"mark":{"type":"line","color":"#ee1111","strokeWidth":3,"strokeDash":[18,6],"clip":true},"encoding":{"x":{"field":"u","type":"quantitative"},"y":{"field":"t","type":"quantitative"},"order":{"value":null}}},
{"data":{"name":"tealR"},"mark":{"type":"line","color":"#0d8080","strokeWidth":3,"clip":true},"encoding":{"x":{"field":"u","type":"quantitative"},"y":{"field":"t","type":"quantitative"},"order":{"value":null}}},
{"data":{"name":"magR"},"mark":{"type":"line","color":"#ff11ff","strokeWidth":2.5,"clip":true},"encoding":{"x":{"field":"u","type":"quantitative"},"y":{"field":"t","type":"quantitative"},"order":{"value":null}}},
{"data":{"name":"blueR"},"mark":{"type":"line","color":"#0000ee","strokeWidth":3,"clip":true},"encoding":{"x":{"field":"u","type":"quantitative"},"y":{"field":"t","type":"quantitative"},"order":{"value":null}}},
{"data":{"name":"depths"},"mark":{"type":"text","text":"16612.0","font":"Liberation Sans","fontSize":14.5,"align":"left","baseline":"alphabetic","dy":1,"color":"black"},"encoding":{"y":{"field":"t","type":"quantitative"},"x":{"datum":3.64}}},
{"data":{"name":"depths"},"mark":{"type":"text","text":"16612.0","font":"Liberation Sans","fontSize":14.5,"align":"left","baseline":"alphabetic","dy":1,"color":"black"},"encoding":{"y":{"field":"t","type":"quantitative"},"x":{"datum":4.94}}},
{"data":{"name":"depths"},"mark":{"type":"text","font":"Liberation Sans","fontSize":14.5,"align":"left","baseline":"alphabetic","dy":1,"color":"black"},"encoding":{"y":{"field":"t","type":"quantitative"},"x":{"datum":18.07},"text":{"field":"d"}}},
{"data":{"name":"times"},"mark":{"type":"text","font":"Liberation Sans","fontSize":20,"align":"center","baseline":"alphabetic","dy":-4,"lineBreak":"\n","lineHeight":23,"color":"black"},"encoding":{"y":{"field":"t","type":"quantitative"},"x":{"datum":-1.064},"text":{"field":"lab"}}},
{"data":{"name":"leaders"},"mark":{"type":"rule","strokeWidth":1.3},"encoding":{"x":{"field":"u","type":"quantitative"},"y":{"field":"t","type":"quantitative"},"x2":{"field":"u2"},"y2":{"field":"t2"},"color":{"field":"k","type":"nominal","legend":null,"scale":{"domain":["purple","teal","red","blue","black","green","magenta"],"range":["#7b1e7b","#168080","#ee1c1c","#0000dd","#000000","#138a13","#ee22ee"]}}}},
{"data":{"name":"labels"},"mark":{"type":"text","font":"Liberation Sans","fontSize":16,"fontWeight":"bold","align":"left","baseline":"middle"},"encoding":{"x":{"field":"u","type":"quantitative"},"y":{"field":"t","type":"quantitative"},"text":{"field":"label"},"color":{"field":"k","type":"nominal","legend":null}}}
]
}
